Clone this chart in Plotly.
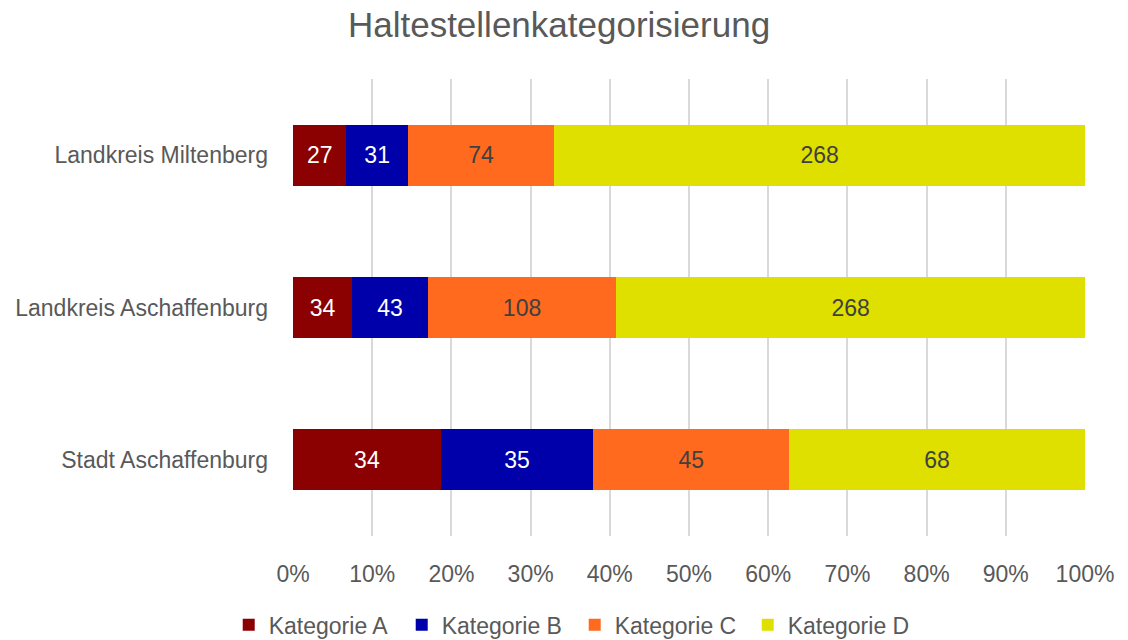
import plotly.graph_objects as go

regions = ["Stadt Aschaffenburg", "Landkreis Aschaffenburg", "Landkreis Miltenberg"]
kat_a = [34, 34, 27]
kat_b = [35, 43, 31]
kat_c = [45, 108, 74]
kat_d = [68, 268, 268]
series_names = ["Kategorie A", "Kategorie B", "Kategorie C", "Kategorie D"]
colors = ["#8B0000", "#0000AA", "#FF6A1F", "#DFDF00"]
text_colors = ["white", "white", "#404040", "#404040"]
tick_vals = [0, 10, 20, 30, 40, 50, 60, 70, 80, 90, 100]
tick_text = [f"{v}%" for v in tick_vals]

font = "Liberation Sans, Arial, sans-serif"
grey = "#595959"

fig = go.Figure()
for name, vals, col, tcol in zip(series_names, [kat_a, kat_b, kat_c, kat_d], colors, text_colors):
    fig.add_trace(go.Bar(
        y=regions, x=vals, name=name, orientation="h",
        marker=dict(color=col, line=dict(width=0)),
        text=vals, textposition="inside", insidetextanchor="middle",
        textangle=0, textfont=dict(color=tcol, size=23, family=font),
    ))

# page body has an 8px margin, so the figure is 8px smaller on each axis
fig.update_layout(
    barmode="stack", barnorm="percent", bargap=0.6,
    width=1120, height=632,
    margin=dict(l=285, r=43, t=71, b=104, autoexpand=False),
    plot_bgcolor="white", paper_bgcolor="white",
    font=dict(family=font, color=grey, size=23),
    title=dict(text="Haltestellenkategorisierung", x=0.492, xanchor="center",
               y=0.973, yanchor="middle", font=dict(size=35, color=grey)),
    legend=dict(orientation="h", xref="container", yref="container",
                x=0.506, xanchor="center", y=0.024, yanchor="middle",
                entrywidth=128, entrywidthmode="pixels",
                font=dict(size=23, color=grey), traceorder="normal"),
    hovermode=False,
    uniformtext=dict(minsize=23, mode="show"),
)
fig.update_xaxes(range=[0, 100], tickvals=tick_vals, ticktext=tick_text,
                 showgrid=True, gridcolor="#d9d9d9", gridwidth=1.5,
                 zeroline=False, showline=False, ticks="", ticklabelstandoff=22,
                 tickfont=dict(size=23, color=grey), automargin=False)
fig.update_yaxes(showgrid=False, showline=False, ticks="", ticklabelstandoff=24,
                 tickfont=dict(size=23, color=grey), automargin=False)

fig.write_html("out.html")
